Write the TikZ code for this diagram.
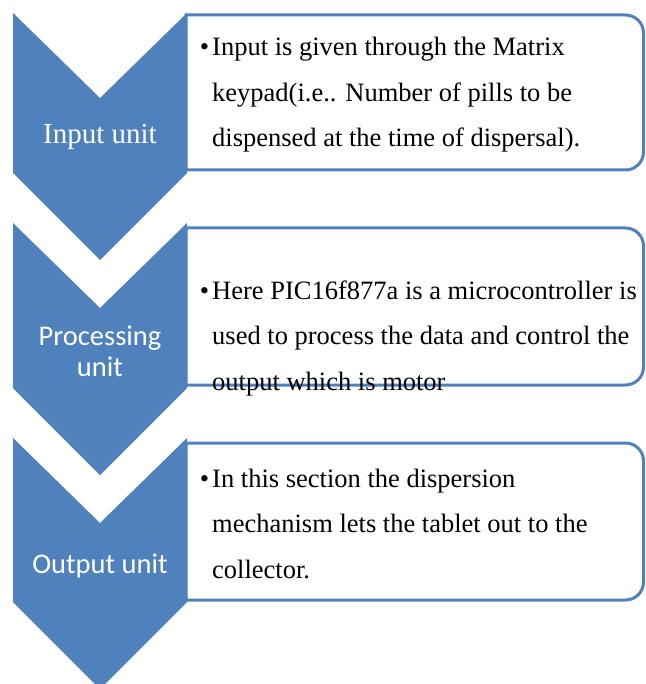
\documentclass[tikz,border=0pt]{standalone}
\usepackage{fontspec}
\setmainfont{Liberation Serif}
\newfontfamily\unitfont{Carlito}
\usetikzlibrary{positioning}
\definecolor{unitblue}{HTML}{4F81BD}

\begin{document}
\begin{tikzpicture}[x=1pt,y=-1pt,
    chev/.style={fill=unitblue,draw=none},
    panel/.style={draw=unitblue,line width=3pt,fill=white},
    unitname/.style={text=white,align=center,inner sep=0pt,font=\unitfont\fontsize{28.5}{31}\selectfont},
    bodytext/.style={anchor=base west,align=left,inner sep=0pt,font=\fontsize{26.5}{45.5}\selectfont}]
    \useasboundingbox[fill=white] (0,0) rectangle (645,684);
    % boxes on the right
    \foreach \top/\bot in {15/170,228/385,443/600}
      \draw[panel] (186,\top) -- (625.5,\top) arc[start angle=-90,end angle=0,radius=18]
        -- (643.5,\bot-18) arc[start angle=0,end angle=90,radius=18] -- (186,\bot) -- cycle;
    % chevrons
    \foreach \top/\side in {13/173,223/388,438/602}
      \fill[chev] (13,\top) -- (100,\top+85) -- (187,\top) -- (187,\side)
        -- (100,\side+87) -- (13,\side) -- cycle;
    \node[unitname,anchor=base,font=\fontsize{29}{31}\selectfont] (input) at (100,144) {Input unit};
    \node[unitname] (processing) at (100,351) {Processing\\unit};
    \node[unitname,anchor=base] (output) at (100,573) {Output unit};
    % base anchor sits on the last line
    \node[bodytext] (inputtext) at (212,147) {\llap{\textbullet\hspace{3pt}}Input is given through the Matrix\\
      keypad(i.e.. Number of pills to be\\
      dispensed at the time of dispersal).};
    \node[bodytext] (processingtext) at (212,390) {\llap{\textbullet\hspace{3pt}}Here PIC16f877a is a microcontroller is\\
      used to process the data and control the\\
      output which is motor};
    \node[bodytext] (outputtext) at (212,578) {\llap{\textbullet\hspace{3pt}}In this section the dispersion\\
      mechanism lets the tablet out to the\\
      collector.};
  \end{tikzpicture}
\end{document}
